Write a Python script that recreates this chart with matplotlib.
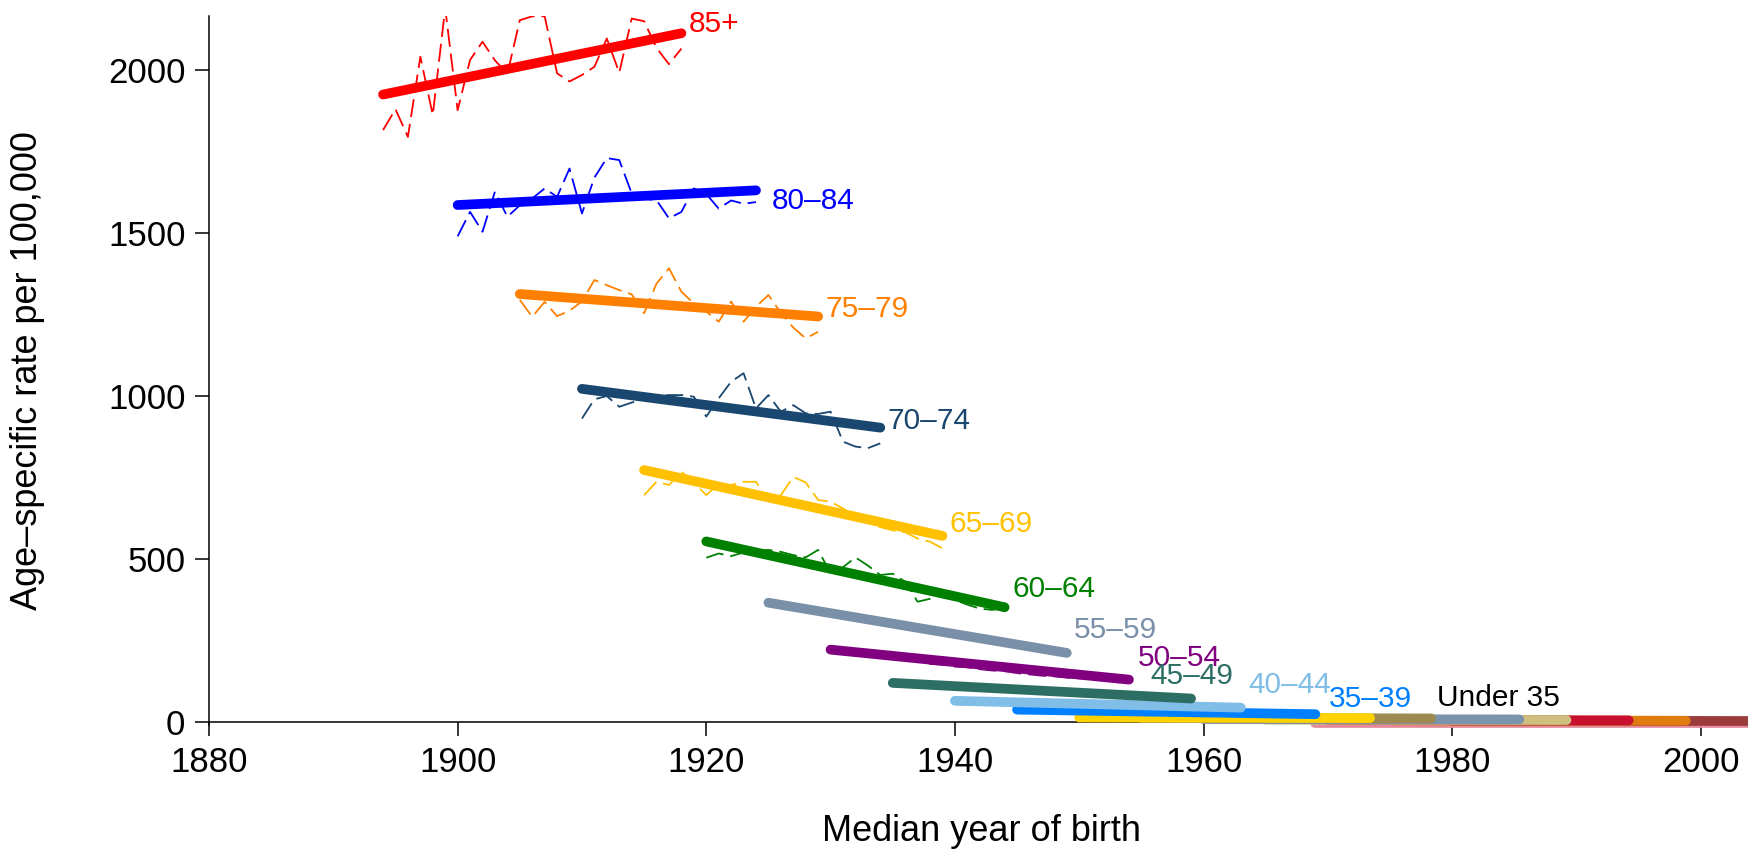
import numpy as np
import matplotlib.pyplot as plt

plt.rcParams['font.family'] = ['Liberation Sans', 'DejaVu Sans']

# age groups with fitted (thick) lines: label, first/last median birth year, fitted start/end rate
groups = ["85+", "80–84", "75–79", "70–74", "65–69", "60–64",
          "55–59", "50–54", "45–49", "40–44", "35–39"]
first_year = [1894, 1900, 1905, 1910, 1915, 1920, 1925, 1930, 1935, 1940, 1945]
last_year = [1918, 1924, 1929, 1934, 1939, 1944, 1949, 1954, 1959, 1963, 1969]
fit_start = [1925, 1586, 1313, 1022, 773, 554, 366, 222, 120, 65, 38]
fit_end = [2113, 1631, 1244, 903, 571, 352, 212, 130, 72, 44, 24]
colors = ["#FF0000", "#0000FF", "#FF8000", "#1A476F", "#FFC000", "#008000",
          "#7A90A8", "#800080", "#2D6E64", "#80BEE8", "#0080FF"]

# observed rates (thin dashed), one value per median year of birth
observed = [
    [1816, 1880, 1795, 2041, 1862, 2190, 1877, 2031, 2087, 2030, 1988, 2153, 2165,
     2165, 1990, 1965, 1985, 2010, 2097, 1992, 2158, 2150, 2068, 2018, 2066],
    [1490, 1565, 1504, 1627, 1550, 1585, 1606, 1637, 1611, 1698, 1560, 1670, 1730,
     1724, 1622, 1605, 1601, 1545, 1565, 1637, 1620, 1575, 1600, 1590, 1595],
    [1295, 1243, 1289, 1245, 1262, 1290, 1356, 1340, 1325, 1312, 1254, 1345, 1392,
     1320, 1284, 1259, 1228, 1290, 1228, 1274, 1310, 1255, 1210, 1177, 1197],
    [931, 990, 1000, 967, 980, 990, 1000, 1003, 1003, 998, 937, 993, 1044,
     1070, 962, 1003, 952, 972, 947, 945, 952, 860, 845, 840, 855],
    [696, 737, 727, 768, 735, 696, 730, 727, 737, 737, 676, 696, 752,
     735, 681, 676, 655, 630, 612, 598, 588, 582, 563, 553, 533],
    [504, 517, 509, 520, 525, 528, 522, 512, 505, 528, 456, 475, 505,
     480, 451, 455, 430, 369, 378, 392, 375, 360, 348, 344, 350],
    [360, 352, 348, 344, 338, 328, 330, 318, 316, 306, 302, 296, 292,
     282, 280, 270, 266, 258, 254, 246, 240, 232, 226, 218, 214],
    [218, 214, 206, 208, 198, 194, 190, 186, 178, 176, 170, 168, 162,
     158, 156, 150, 146, 142, 140, 136, 134, 132, 128, 126, 124],
    [118, 114, 116, 110, 108, 106, 104, 100, 98, 96, 95, 92, 90,
     88, 86, 84, 82, 82, 80, 78, 76, 75, 74, 72, 70],
    [64, 62, 62, 60, 60, 58, 57, 56, 55, 54, 53, 52, 51,
     50, 50, 49, 48, 47, 46, 46, 45, 44, 44, 43],
    [38, 37, 36, 36, 35, 34, 33, 33, 32, 31, 30, 30, 29,
     28, 28, 27, 27, 26, 26, 25, 25, 24, 24, 24, 23],
]

# label anchors (data coords) for the group names
label_x = [1918.6, 1925.3, 1929.6, 1934.6, 1939.6, 1944.6, 1949.6, 1954.7, 1955.7, 1963.6, 1970.1]
label_y = [2140, 1599, 1267, 922, 607, 409, 283, 197, 142, 115, 70]

# under-35 groups (30-34 down to 0-4, then one more below the axis), all close to zero
young_first = [1950, 1955, 1960, 1965, 1970, 1975, 1980, 1969]
young_last = [1973.4, 1978.3, 1985.4, 1989.2, 1994.2, 1998.8, 2006, 2006]
young_start = [14, 12, 9, 7, 6, 5, 4, -4]
young_end = [12, 11, 8, 6, 5, 4, 3, -4]
young_colors = ["#FFD200", "#9C8A4E", "#7B93AD", "#CFC07F",
                "#C8102E", "#E07B10", "#9B3B3B", "#E48A9A"]

fig = plt.figure(figsize=(17.48, 8.55), dpi=100)
ax = fig.add_axes([0.11957, 0.1525, 0.88043, 0.8292])

n = len(groups)
for i, g in enumerate(groups):
    yrs = np.arange(first_year[i], first_year[i] + len(observed[i]))
    ax.plot(yrs, observed[i], color=colors[i], lw=1.3, dashes=(10, 3.8), zorder=2)
    # older groups sit on top
    ax.plot([first_year[i], last_year[i]], [fit_start[i], fit_end[i]],
            color=colors[i], lw=7, solid_capstyle='round', zorder=3 + 0.01 * (n - i))
    ax.text(label_x[i], label_y[i], g, color=colors[i], fontsize=21.5,
            ha='left', va='center', zorder=4)

for j in range(len(young_first)):
    ax.plot([young_first[j], young_last[j]], [young_start[j], young_end[j]],
            color=young_colors[j], lw=7, solid_capstyle='round',
            zorder=2.9 - 0.01 * j, clip_on=False)
ax.text(1978.8, 74, "Under 35", color="black", fontsize=21.5, ha='left', va='center')

ax.set_xlim(1880, 2003.8)
ax.set_ylim(-8, 2167)
ax.set_xticks([1880, 1900, 1920, 1940, 1960, 1980, 2000])
ax.set_yticks([0, 500, 1000, 1500, 2000])
ax.spines['top'].set_visible(False)
ax.spines['right'].set_visible(False)
ax.spines['bottom'].set_position(('data', 0))
for s in ['left', 'bottom']:
    ax.spines[s].set_linewidth(1.1)
ax.tick_params(axis='both', length=10, width=1.1, labelsize=25, pad=7)

fig.text(981 / 1748, 1 - 831 / 855, "Median year of birth", fontsize=26,
         ha='center', va='center')
fig.text(28 / 1748, 1 - 371 / 855, "Age–specific rate per 100,000", fontsize=26,
         rotation=90, ha='center', va='center')

fig.savefig("out.png", dpi=100)
